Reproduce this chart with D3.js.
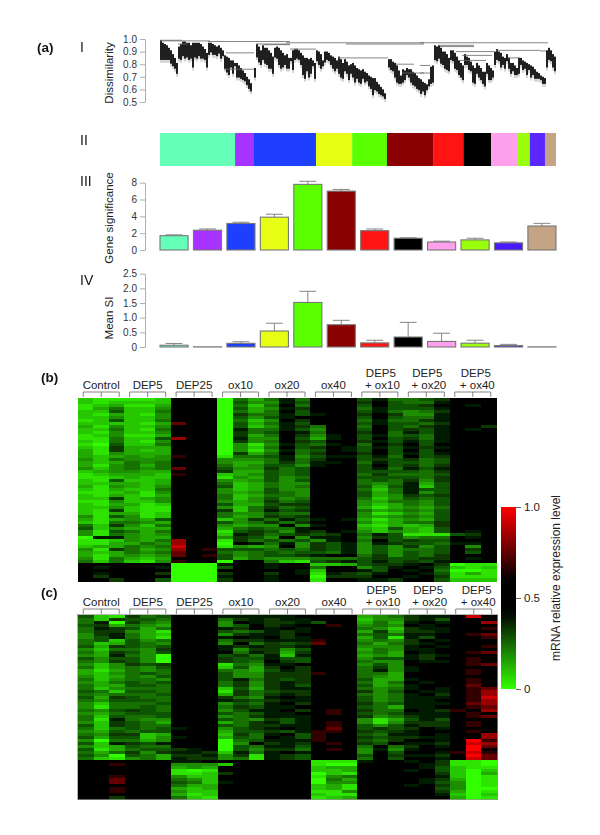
<!DOCTYPE html>
<html>
<head>
<meta charset="utf-8">
<script src="https://d3js.org/d3.v7.min.js"></script>
<style>
  body { margin: 0; background: #fff; }
  text { font-family: "Liberation Sans", Arial, sans-serif; }
</style>
</head>
<body>
<div id="chart"></div>
<script>
  // module sizes (leaf counts along the tree) and their colours
  var moduleNames = ["aquamarine", "purple", "blue", "yellow", "green", "darkred", "red", "black", "pink", "greenyellow", "slateblue", "tan"];
  var moduleSizes = [218, 55, 180, 105, 101, 134, 88, 81, 75, 37, 44, 32];
  var moduleColors = ["#66ffb8", "#a633ff", "#1f3fff", "#e6ff14", "#5aff00", "#8b0000", "#ff1414", "#000000", "#ffa0ec", "#99ff0a", "#5a28ff", "#c4a484"];
  var barColors = ["#66ffb8", "#a633ff", "#1f3fff", "#e6ff14", "#5aff00", "#8b0000", "#ff1414", "#000000", "#ffa0ec", "#99ff0a", "#4a1aff", "#c4a484"];

  // panel III and IV
  var geneSig = [1.7, 2.35, 3.15, 3.9, 7.8, 7.0, 2.3, 1.4, 0.95, 1.2, 0.85, 2.85];
  var geneSigErr = [1.8, 2.5, 3.3, 4.25, 8.17, 7.2, 2.5, 1.45, 1.05, 1.4, 0.95, 3.17];
  var meanSI = [0.06, 0.005, 0.125, 0.545, 1.52, 0.76, 0.14, 0.34, 0.19, 0.13, 0.05, 0.005];
  var meanSIErr = [0.12, 0.005, 0.18, 0.81, 1.9, 0.91, 0.23, 0.84, 0.47, 0.23, 0.09, 0.005];

  // dendrogram outline, one entry per slice of leaves, dissimilarity x 100
  var leafTop = [99,97,96,95,93,91,88,85,81,94,96,98,98,97,97,95,97,97,97,97,96,94,92,89,97,97,96,95,94,95,93,91,87,86,85,83,83,81,81,79,77,75,73,70,68,65,null,77,96,94,91,95,93,93,91,89,86,93,94,93,91,89,87,88,85,85,91,92,92,91,89,87,85,85,84,85,83,81,91,90,88,83,90,90,89,87,86,85,83,86,84,81,84,82,79,80,81,79,77,76,75,76,74,73,71,70,69,69,66,64,62,60,57,null,84,84,82,81,79,75,71,76,75,77,76,76,74,73,71,69,68,66,65,64,68,78,79,95,94,95,93,90,90,88,85,91,91,89,86,83,81,79,88,86,85,82,79,77,81,79,77,74,74,81,79,77,75,90,92,90,89,86,85,88,85,81,81,79,77,85,85,83,82,81,80,79,78,76,74,73,71,70,69,91,93,91,88,86];
  var leafBottom = [81,81,81,81,81,78,76,74,70,82,81,84,82,83,81,82,75,83,82,84,82,82,81,75,85,87,85,85,84,86,82,84,74,71,69,75,70,76,67,67,66,65,64,61,58,56,null,67,83,79,77,81,78,77,74,74,70,83,82,77,74,75,77,74,74,80,73,81,82,81,77,69,66,72,67,70,76,66,80,77,74,76,79,81,80,77,74,72,74,70,67,66,72,70,65,70,67,63,66,63,62,66,63,64,60,58,53,57,56,54,53,52,50,null,75,73,72,67,63,62,62,63,65,69,67,63,61,60,58,57,54,56,53,57,60,62,63,81,80,82,78,77,74,73,72,81,80,74,73,69,67,65,77,77,73,72,63,62,70,67,65,62,60,70,65,65,67,77,81,80,75,77,74,80,74,70,72,69,69,70,77,73,74,69,73,67,69,66,66,66,65,62,62,75,81,80,75,72];

  // merge lines of the tree: first slice, last slice, height
  var mergeFrom = [0, 0, 24, 33, 32, 48, 52, 63, 93, 67, 89, 118, 121, 130, 139, 140, 148, 151, 168, 190, 130, 130, 174, 149, 65, 9];
  var mergeTo = [11, 25, 65, 47, 47, 65, 65, 132, 132, 78, 114, 127, 132, 194, 157, 157, 167, 166, 190, 193, 135, 135, 180, 163, 69, 14];
  var mergeHeight = [99, 98.5, 98, 89, 76, 96, 95.5, 97, 96, 92, 85, 80, 73, 97, 95, 94, 90, 87, 91, 90.5, 79, 73, 85, 83, 92, 96];

  // heatmaps: one string per row, 0 black, 1-9 more green, a-e more red
  var groupLabels = [["Control"], ["DEP5"], ["DEP25"], ["ox10"], ["ox20"], ["ox40"], ["DEP5", "+ ox10"], ["DEP5", "+ ox20"], ["DEP5", "+ ox40"]];
  var heatB = [
    "788 887 000 946 414 000 314 432 000",
    "787 777 000 935 513 000 203 441 000",
    "876 886 000 947 404 000 303 320 010",
    "864 775 000 936 512 000 413 331 000",
    "773 774 000 946 403 000 314 542 000",
    "786 785 000 924 413 100 202 551 000",
    "775 775 000 935 310 000 303 441 000",
    "873 774 000 947 502 000 414 421 000",
    "777 786 b00 936 413 000 313 342 000",
    "685 775 000 937 512 400 403 421 002",
    "774 784 000 914 413 500 303 231 010",
    "785 775 000 924 301 400 204 131 000",
    "875 886 000 926 402 510 314 341 000",
    "884 773 c00 915 503 610 303 241 000",
    "784 785 000 925 402 300 213 131 000",
    "893 774 000 958 513 410 402 030 000",
    "782 666 000 957 403 201 313 121 000",
    "682 676 000 958 514 301 303 030 000",
    "685 666 000 926 404 200 203 131 000",
    "676 565 a00 844 315 311 314 032 000",
    "574 555 000 555 414 200 323 243 000",
    "676 454 000 566 424 110 413 343 000",
    "685 464 000 465 335 100 303 242 000",
    "575 454 b00 355 243 000 314 131 000",
    "765 566 000 266 343 000 333 342 000",
    "876 667 a00 765 343 000 424 443 000",
    "887 677 000 856 354 000 333 342 000",
    "783 776 000 565 353 000 434 252 000",
    "776 676 000 476 455 000 454 163 000",
    "685 675 000 376 454 000 363 173 000",
    "786 774 000 576 355 000 474 133 000",
    "887 685 000 565 345 000 364 153 000",
    "786 786 000 476 445 000 365 232 000",
    "772 765 000 475 354 000 475 343 000",
    "885 775 000 565 243 000 564 453 000",
    "786 687 000 366 322 000 576 453 000",
    "775 788 000 574 243 000 686 564 000",
    "782 788 000 274 132 000 465 453 000",
    "786 687 000 455 344 000 587 563 000",
    "583 587 000 465 232 000 565 453 000",
    "686 563 000 752 413 101 686 563 000",
    "784 456 000 354 242 000 576 442 000",
    "472 574 000 565 505 100 786 762 000",
    "375 666 000 643 441 000 673 673 000",
    "583 464 000 832 351 201 575 673 010",
    "584 565 000 712 432 320 413 888 320",
    "911 566 000 523 505 110 523 544 010",
    "887 564 c00 824 343 510 403 233 000",
    "886 645 c00 901 415 231 512 334 110",
    "766 454 d00 856 505 231 535 253 050",
    "582 465 c0a 333 434 231 535 443 020",
    "676 454 b00 454 343 341 535 343 030",
    "686 565 b0a 354 332 100 425 342 000",
    "584 676 000 364 555 444 323 322 010",
    "474 785 a00 900 478 321 313 231 000",
    "000 000 999 100 100 776 322 102 988",
    "010 001 999 300 100 400 531 013 787",
    "000 000 999 000 001 700 130 104 998",
    "010 002 999 200 201 812 310 013 868",
    "020 000 999 100 100 922 200 102 888",
    "002 003 999 200 100 800 112 003 777"
  ];
  var heatC = [
    "378 243 000 111 110 000 654 211 0d0",
    "472 334 000 421 211 000 755 213 000",
    "419 245 000 501 221 300 646 101 00c",
    "326 456 000 530 210 0a0 545 010 000",
    "412 364 000 120 101 000 457 211 00a",
    "422 568 000 343 121 000 626 221 000",
    "521 467 000 521 120 000 434 110 0ab",
    "531 468 000 101 021 000 638 130 00a",
    "437 354 000 422 111 a00 545 201 000",
    "476 345 000 504 232 b00 464 210 000",
    "362 343 000 121 221 000 555 101 00a",
    "574 452 000 152 253 000 645 110 000",
    "462 353 000 041 262 000 546 010 0ab",
    "561 459 000 324 171 000 656 121 000",
    "353 359 000 233 133 000 533 120 0a0",
    "452 359 000 234 023 000 455 011 0a0",
    "575 232 000 845 110 000 535 000 0ab",
    "475 453 000 736 202 000 425 100 000",
    "686 454 000 456 312 000 415 100 0a0",
    "675 434 000 355 222 a00 446 000 0a0",
    "576 453 000 355 222 000 456 000 000",
    "475 445 000 314 232 000 366 100 0a0",
    "564 343 000 425 212 000 464 010 0a0",
    "466 334 000 425 213 000 365 100 0b0",
    "475 444 000 736 211 000 454 101 0ab",
    "347 334 000 824 322 000 253 011 0ac",
    "454 443 000 624 212 000 454 102 0ac",
    "362 344 000 245 101 000 354 111 0ad",
    "453 334 000 123 211 000 354 110 0ac",
    "574 443 000 534 102 000 243 111 0bc",
    "584 434 000 423 110 000 346 110 0ab",
    "453 234 000 531 102 0a0 244 012 a0c",
    "564 333 000 343 110 0a0 343 111 0a0",
    "473 443 000 542 111 000 254 211 0ab",
    "481 455 000 345 231 000 586 313 000",
    "572 346 000 642 131 0a0 585 222 0a0",
    "372 344 000 342 211 0a0 353 122 0a0",
    "474 343 100 532 101 0b0 323 201 000",
    "563 433 000 633 231 aa0 232 100 0a0",
    "452 276 000 724 103 a00 341 101 00c",
    "363 375 100 634 013 a00 232 211 00c",
    "594 465 000 943 111 a00 342 001 0ea",
    "371 231 000 950 212 0a0 230 112 0dc",
    "576 344 000 934 113 000 404 201 0eb",
    "386 433 210 935 224 0a0 515 100 0e0",
    "464 252 112 714 101 000 503 001 ada",
    "359 346 221 528 123 000 302 112 0eb",
    "478 546 122 548 123 000 403 001 0db",
    "000 000 110 000 000 888 100 102 889",
    "00a 000 555 700 000 899 000 012 889",
    "000 000 656 000 000 766 000 013 788",
    "000 000 898 000 000 776 000 103 797",
    "000 000 887 200 000 978 000 002 796",
    "00a 000 577 000 000 854 000 001 798",
    "00b 000 457 000 000 946 000 012 698",
    "00b 000 347 100 000 955 000 013 598",
    "000 000 466 000 000 768 000 102 598",
    "00a 000 676 000 000 768 000 003 599",
    "00a 000 577 000 000 885 000 002 698",
    "000 000 687 000 000 788 000 001 797",
    "002 000 478 000 000 876 000 000 698"
  ];
  var legendTicks = [0, 0.5, 1];

  var svg = d3.select("#chart")
    .append("svg")
    .attr("width", 600)
    .attr("height", 835);

  var treeLeft = 160, treeRight = 556, axisX = 145;

  // expression value -> colour, shared by heatmaps and colour bar (black band in the middle)
  var color = d3.scaleLinear()
    .domain([0, 0.42, 0.6, 1])
    .range(["#33ff00", "#000000", "#000000", "#ff0000"]);

  function cellValue(c) {
    if (c >= "a") return 0.6 + (c.charCodeAt(0) - 96) * 0.08;
    return 0.42 - (+c) * 0.42 / 9;
  }

  function label(x, y, txt, size, weight) {
    return svg.append("text")
      .attr("x", x)
      .attr("y", y)
      .attr("font-size", size)
      .attr("font-weight", weight || "normal")
      .attr("fill", "#111")
      .attr("opacity", 0.99)
      .text(txt);
  }

  function yTitle(x, y, txt, size) {
    svg.append("text")
      .attr("transform", "translate(" + x + "," + y + ")rotate(-90)")
      .attr("text-anchor", "middle")
      .attr("font-size", size)
      .attr("fill", "#222")
      .text(txt);
  }

  function leftAxis(scale, ticks, fmt) {
    var g = svg.append("g")
      .attr("transform", "translate(" + axisX + ",0)")
      .call(d3.axisLeft(scale).tickValues(ticks).tickFormat(fmt).tickSize(5).tickSizeOuter(0));
    g.selectAll("path,line").attr("stroke", "#999").attr("stroke-width", 0.8);
    g.selectAll("text").attr("font-size", 10).attr("fill", "#333")
      .attr("font-family", "Liberation Sans");
    g.attr("font-family", null);
    return g;
  }

  // panel letters and roman numerals
  label(37, 52, "(a)", 13.5, "bold");
  label(41, 382, "(b)", 13.5, "bold");
  label(41, 597, "(c)", 13.5, "bold");
  label(80, 52, "I", 14);
  label(80, 144.5, "II", 14);
  label(80, 186, "III", 14);
  label(80, 285, "IV", 14);

  // ---- I: dendrogram
  var yTree = d3.scaleLinear().domain([50, 100]).range([102, 39]);
  var xLeaf = d3.scaleBand()
    .domain(d3.range(leafTop.length))
    .range([treeLeft, treeRight]);

  leftAxis(yTree, [50, 60, 70, 80, 90, 100], function(d) { return (d / 100).toFixed(1); });
  yTitle(113, 73, "Dissimilarity", 11.5);

  var leaves = d3.range(leafTop.length).filter(function(i) { return leafTop[i] !== null; });

  // thin grey whiskers show under the solid part
  svg.append("g").selectAll("line")
    .data(leaves)
    .enter()
    .append("line")
    .attr("x1", function(i) { return xLeaf(i) + xLeaf.bandwidth() / 2; })
    .attr("x2", function(i) { return xLeaf(i) + xLeaf.bandwidth() / 2; })
    .attr("y1", function(i) { return yTree(leafTop[i]); })
    .attr("y2", function(i) { return yTree(leafBottom[i]); })
    .attr("stroke", "#999")
    .attr("stroke-width", 0.8);

  svg.append("g").selectAll("rect")
    .data(leaves)
    .enter()
    .append("rect")
    .attr("x", function(i) { return xLeaf(i) + 0.15; })
    .attr("width", xLeaf.bandwidth() - 0.3)
    .attr("y", function(i) { return yTree(leafTop[i]); })
    .attr("height", function(i) { return yTree(leafBottom[i]) - yTree(leafTop[i]) - 3; })
    .attr("fill", "#000");

  svg.append("g").selectAll("line")
    .data(d3.range(mergeFrom.length))
    .enter()
    .append("line")
    .attr("x1", function(i) { return xLeaf(mergeFrom[i]); })
    .attr("x2", function(i) { return xLeaf(mergeTo[i]); })
    .attr("y1", function(i) { return yTree(mergeHeight[i]); })
    .attr("y2", function(i) { return yTree(mergeHeight[i]); })
    .attr("stroke", "#666")
    .attr("stroke-width", 0.8);

  // ---- II: module colour band
  var xModule = d3.scaleLinear()
    .domain([0, d3.sum(moduleSizes)])
    .range([treeLeft, treeRight]);
  var cum = d3.cumsum(moduleSizes);

  svg.append("g").selectAll("rect")
    .data(moduleNames)
    .enter()
    .append("rect")
    .attr("x", function(d, i) { return xModule(i ? cum[i - 1] : 0); })
    .attr("width", function(d, i) { return xModule(moduleSizes[i]) - treeLeft; })
    .attr("y", 133)
    .attr("height", 33)
    .attr("fill", function(d, i) { return moduleColors[i]; });

  // ---- III, IV: bars with error whiskers
  var xBar = d3.scaleBand()
    .domain(moduleNames)
    .range([treeLeft, treeRight])
    .paddingInner(0.16);

  function bars(values, errs, y) {
    var g = svg.append("g");
    var w = xBar.bandwidth();
    moduleNames.forEach(function(m, i) {
      var cx = xBar(m) + w / 2;
      if (errs[i] > values[i]) {
        g.append("line").attr("x1", cx).attr("x2", cx)
          .attr("y1", y(values[i])).attr("y2", y(errs[i]))
          .attr("stroke", "#777").attr("stroke-width", 0.9);
        g.append("line").attr("x1", cx - w * 0.3).attr("x2", cx + w * 0.3)
          .attr("y1", y(errs[i])).attr("y2", y(errs[i]))
          .attr("stroke", "#777").attr("stroke-width", 0.9);
      }
      g.append("rect")
        .attr("x", xBar(m))
        .attr("width", w)
        .attr("y", y(values[i]))
        .attr("height", y(0) - y(values[i]))
        .attr("fill", barColors[i])
        .attr("stroke", "#777")
        .attr("stroke-width", 1.1);
    });
  }

  var ySig = d3.scaleLinear().domain([0, 8]).range([250, 182.7]);
  leftAxis(ySig, [0, 2, 4, 6, 8], d3.format("d"));
  yTitle(113, 218, "Gene significance", 11.5);
  bars(geneSig, geneSigErr, ySig);

  var ySI = d3.scaleLinear().domain([0, 2.5]).range([347, 273.7]);
  leftAxis(ySI, [0, 0.5, 1, 1.5, 2, 2.5], function(d) { return d === 0 ? "0" : d.toFixed(1); });
  yTitle(113, 318, "Mean SI", 11.5);
  bars(meanSI, meanSIErr, ySI);

  // slight blur, the printed heatmaps are soft
  svg.append("defs").append("filter")
    .attr("id", "soft")
    .append("feGaussianBlur")
    .attr("stdDeviation", "0.5 0.35");

  // ---- b, c: heatmaps
  function heatmap(rows, left, right, top, bottom) {
    var cells = rows.map(function(r) { return r.replace(/ /g, "").split(""); });
    var x = d3.scaleBand().domain(d3.range(27)).range([left, right]);
    var y = d3.scaleBand().domain(d3.range(cells.length)).range([top, bottom]);
    var g = svg.append("g").attr("filter", "url(#soft)");
    var cellsG = g.append("g").attr("shape-rendering", "crispEdges");

    // black backing so no white shows between cells
    cellsG.append("rect")
      .attr("x", left).attr("y", top)
      .attr("width", right - left).attr("height", bottom - top)
      .attr("fill", "#000");

    cells.forEach(function(row, r) {
      cellsG.selectAll(null)
        .data(row)
        .enter()
        .append("rect")
        .attr("x", function(d, c) { return x(c); })
        .attr("y", y(r))
        .attr("width", x.bandwidth() + 1)
        .attr("height", y.bandwidth() + 1)
        .attr("fill", function(d) { return color(cellValue(d)); });
    });

    // group brackets and labels
    var groupW = (right - left) / 9;
    groupLabels.forEach(function(lines, i) {
      var cx = left + groupW * (i + 0.5);
      var p = "M" + (cx - 18) + "," + (top - 1) + "V" + (top - 6) + "H" + (cx + 18) + "V" + (top - 1) +
        "M" + cx + "," + (top - 1) + "V" + (top - 6);
      svg.append("path").attr("d", p).attr("fill", "none")
        .attr("stroke", "#666").attr("stroke-width", 0.8);
      lines.forEach(function(t, j) {
        var shift = lines.length > 1 ? (i === 8 ? 3 : 1) + j * 1.5 : 0;
        svg.append("text")
          .attr("x", cx + shift)
          .attr("y", top - 9 - (lines.length - 1 - j) * 12)
          .attr("text-anchor", "middle")
          .attr("font-size", 11.5)
          .attr("fill", "#222")
          .text(t);
      });
    });
  }

  heatmap(heatB, 78, 496, 398, 581);
  heatmap(heatC, 78, 497, 615, 799);
  svg.append("rect")
    .attr("x", 77.5).attr("y", 614.5).attr("width", 420).attr("height", 185)
    .attr("fill", "none").attr("stroke", "#999").attr("stroke-width", 0.7);

  // ---- colour bar
  var yLegend = d3.scaleLinear().domain([0, 1]).range([689, 507]);
  var grad = svg.select("defs").append("linearGradient")
    .attr("id", "exprGrad")
    .attr("x1", 0).attr("x2", 0).attr("y1", 1).attr("y2", 0);
  d3.range(0, 1.01, 0.05).forEach(function(v) {
    grad.append("stop").attr("offset", v).attr("stop-color", color(v));
  });
  svg.append("rect")
    .attr("x", 501).attr("width", 15)
    .attr("y", yLegend(1)).attr("height", yLegend(0) - yLegend(1))
    .attr("fill", "url(#exprGrad)");

  var legendAxis = svg.append("g")
    .attr("transform", "translate(516,0)")
    .call(d3.axisRight(yLegend).tickValues(legendTicks)
      .tickFormat(function(d) { return d === 0 ? "0" : d.toFixed(1); })
      .tickSize(5).tickSizeOuter(0));
  legendAxis.select(".domain").remove();
  legendAxis.selectAll("line").attr("stroke", "#666");
  legendAxis.selectAll("text").attr("font-size", 11.5).attr("fill", "#222")
    .attr("font-family", "Liberation Sans");
  legendAxis.attr("font-family", null);

  yTitle(560, 578, "mRNA relative expression level", 12);
</script>
</body>
</html>
